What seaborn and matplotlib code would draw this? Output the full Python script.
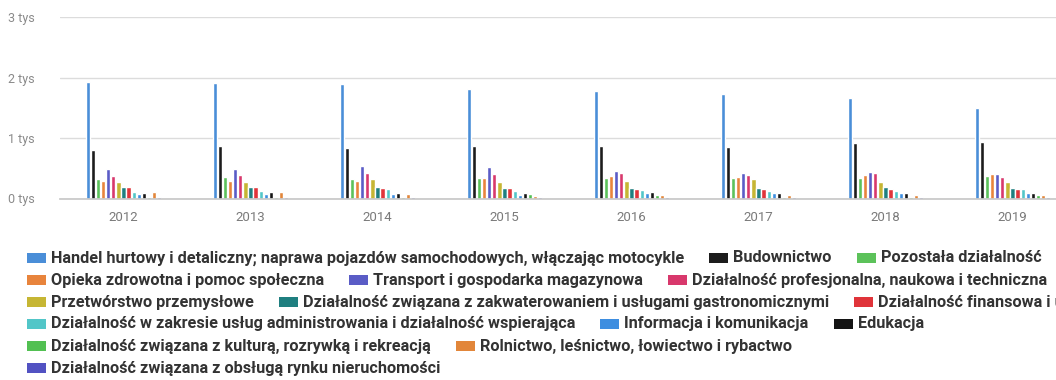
import matplotlib
matplotlib.use("Agg")
import matplotlib.pyplot as plt
from matplotlib.patches import Rectangle
import seaborn as sns
import pandas as pd

# years on the x axis
years = ['2012', '2013', '2014', '2015', '2016', '2017', '2018', '2019']

# sections (legend order)
sections = [
    'Handel hurtowy i detaliczny; naprawa pojazdów samochodowych, włączając motocykle',
    'Budownictwo',
    'Pozostała działalność',
    'Opieka zdrowotna i pomoc społeczna',
    'Transport i gospodarka magazynowa',
    'Działalność profesjonalna, naukowa i techniczna',
    'Przetwórstwo przemysłowe',
    'Działalność związana z zakwaterowaniem i usługami gastronomicznymi',
    'Działalność finansowa i ubezpieczeniowa',
    'Działalność w zakresie usług administrowania i działalność wspierająca',
    'Informacja i komunikacja',
    'Edukacja',
    'Działalność związana z kulturą, rozrywką i rekreacją',
    'Rolnictwo, leśnictwo, łowiectwo i rybactwo',
    'Działalność związana z obsługą rynku nieruchomości',
]

# values per section, one per year 2012..2019
handel =        [1930, 1915, 1890, 1805, 1780, 1720, 1665, 1500]
budownictwo =   [805, 865, 830, 870, 865, 855, 910, 940]
pozostala =     [320, 350, 320, 335, 335, 335, 335, 370]
opieka =        [290, 290, 290, 345, 370, 360, 390, 400]
transport =     [485, 485, 535, 515, 460, 425, 435, 405]
profesjonalna = [370, 390, 415, 405, 415, 390, 415, 360]
przetworstwo =  [280, 280, 315, 280, 295, 315, 280, 280]
zakwaterowanie = [195, 195, 185, 170, 170, 180, 185, 170]
finansowa =     [195, 195, 180, 170, 150, 150, 150, 150]
administrowanie = [110, 130, 150, 130, 140, 125, 130, 150]
informacja =    [70, 75, 70, 60, 95, 95, 95, 95]
edukacja =      [95, 100, 95, 85, 100, 95, 95, 95]
kultura =       [20, 20, 30, 75, 60, 30, 30, 60]
rolnictwo =     [105, 100, 75, 40, 60, 60, 60, 60]
nieruchomosci = [30, 30, 30, 25, 30, 30, 30, 30]

series = [handel, budownictwo, pozostala, opieka, transport, profesjonalna,
          przetworstwo, zakwaterowanie, finansowa, administrowanie, informacja,
          edukacja, kultura, rolnictwo, nieruchomosci]

colors = ['#4a8ed8', '#1c1c1c', '#5cc25a', '#e8843c', '#5a5cc6', '#d8386c',
          '#c6b634', '#1f7f80', '#e0343a', '#52c6c8', '#3e8ee0', '#141414',
          '#52c052', '#e2863a', '#5252c2']

rows = []
for name, vals in zip(sections, series):
    for y, v in zip(years, vals):
        rows.append({'Rok': y, 'Sekcja': name, 'Liczba': v})
df = pd.DataFrame(rows)

sns.set_theme(style="white")
plt.rcParams['font.family'] = ['Roboto', 'DejaVu Sans']

W, H = 1056, 380
fig = plt.figure(figsize=(W / 100, H / 100), dpi=100)
ax = fig.add_axes([60 / W, (H - 198.5) / H, 1016 / W, 181.5 / H])

sns.barplot(data=df, x='Rok', y='Liczba', hue='Sekcja', order=years,
            hue_order=sections, palette=colors, width=0.6, gap=0.18,
            saturation=1, legend=False, ax=ax)

ax.set_xlim(-0.5, len(years) - 0.5)
ax.set_ylim(0, 3000)
ax.set_yticks([0, 1000, 2000, 3000])
ax.set_yticklabels(['0 tys', '1 tys', '2 tys', '3 tys'])
ax.yaxis.grid(True, color='#dcdcdc', linewidth=1)
ax.set_axisbelow(True)
ax.set_xlabel('')
ax.set_ylabel('')
for s in ['top', 'right', 'left']:
    ax.spines[s].set_visible(False)
ax.spines['bottom'].set_color('#c8c8c8')
ax.tick_params(axis='y', length=0, pad=18, labelsize=9, labelcolor='#8a8a8a')
ax.tick_params(axis='x', length=0, pad=9, labelsize=9.5, labelcolor='#7a7a7a')
ax.set_xticks([i - 0.5 for i in range(len(years) + 1)], minor=True)
ax.tick_params(axis='x', which='minor', length=5, color='#c8c8c8', width=1)

# flowing legend below the chart
legend_rows = [[0, 1, 2], [3, 4, 5], [6, 7, 8], [9, 10, 11], [12, 13], [14]]
row_y = [258, 280, 302, 323.5, 346, 368]

renderer = fig.canvas.get_renderer()
probe = fig.text(0, 0, sections[0], fontsize=10, fontweight='bold')
base_w = probe.get_window_extent(renderer).width
probe.remove()
fsize = 10 * 637 / base_w

for r, row in enumerate(legend_rows):
    x = 27
    yc = H - row_y[r]
    for idx in row:
        fig.patches.append(Rectangle((x / W, (yc - 5) / H), 19 / W, 10 / H,
                                     transform=fig.transFigure, figure=fig,
                                     facecolor=colors[idx], edgecolor='none'))
        t = fig.text((x + 24) / W, yc / H, sections[idx], va='center', ha='left',
                     fontsize=fsize, fontweight='bold', color='#333333')
        x = x + 24 + t.get_window_extent(renderer).width + 25

fig.savefig("out.png", dpi=100)
